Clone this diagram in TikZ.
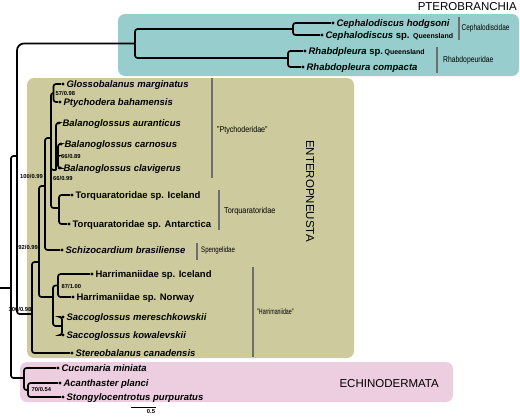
\documentclass[tikz,border=0pt]{standalone}
\usepackage{fontspec}
\setmainfont{Liberation Sans}
\usepackage{graphicx}
\definecolor{pteroteal}{RGB}{151,205,204}
\definecolor{entolive}{RGB}{205,203,158}
\definecolor{echpink}{RGB}{237,205,224}
\definecolor{bargray}{RGB}{110,110,110}
\newcommand\leaf[5]{%
  \node[leafdot] (#1) at (#2,#3) {};
  \node[#5] (#1-t) at ([shift={(1.6,3.4)}]#1.east) {#4};}
\newcommand\qsmall[1]{{\upshape\fontsize{7}{8}\selectfont #1}}
\begin{document}
\begin{tikzpicture}[x=1pt,y=-1pt,
  branch/.style={line width=1.7pt, rounded corners=2.5pt},
  leafdot/.style={circle, fill=black, inner sep=0pt, minimum size=3.2pt},
  taxon/.style={anchor=base west, inner sep=0pt, font=\fontsize{9.5}{10}\selectfont\bfseries\itshape},
  taxonup/.style={anchor=base west, inner sep=0pt, font=\fontsize{9.5}{10}\selectfont\bfseries},
  support/.style={inner sep=0pt, font=\fontsize{5.8}{6}\selectfont\bfseries},
  famlabel/.style={anchor=west, inner sep=0pt, font=\fontsize{8.5}{9}\selectfont},
  famsmall/.style={anchor=west, inner sep=0pt, font=\fontsize{8}{9}\selectfont},
  fambar/.style={draw=bargray, line width=1.6pt},
  cladename/.style={inner sep=0pt, font=\fontsize{11.5}{12}\selectfont}
]
\useasboundingbox (0,0) rectangle (520,416);
% clade boxes
\fill[pteroteal, rounded corners=7pt] (118,14) rectangle (519,76);
\fill[entolive, rounded corners=7pt] (27,78) rectangle (354,358);
\fill[echpink, rounded corners=7pt] (20,362) rectangle (453,402);
\node[cladename, anchor=base east] (ptName) at (517,10) {PTEROBRANCHIA};
\node[cladename, anchor=base east] (echName) at (439,387) {ECHINODERMATA};
\node[cladename, rotate=-90] (entName) at (310,191) {ENTEROPNEUSTA};

% internal nodes
\coordinate (rootstub) at (0,288);
\coordinate (root) at (11,288);
\coordinate (hemi) at (17,156);
\coordinate (ptero) at (135,43.5);
\coordinate (ceph) at (293,29);
\coordinate (rhab) at (288,58);
\coordinate (ent) at (32,314);
\coordinate (nC) at (39,262);
\coordinate (nB) at (45,186);
\coordinate (nA) at (51,138);
\coordinate (gp) at (53.5,93);
\coordinate (bal) at (56,170);
\coordinate (cc) at (58,156);
\coordinate (torq) at (59,208);
\coordinate (harr) at (53,297);
\coordinate (har1) at (58,285.5);
\coordinate (sac) at (62,326);
\coordinate (ech) at (24,378);
\coordinate (as) at (28,390);

% leaves
\leaf{Chod}{333}{23}{Cephalodiscus hodgsoni}{taxon}
\leaf{Csp}{322}{35}{Cephalodiscus \upshape sp. \qsmall{Queensland}}{taxon}
\leaf{Rsp}{305}{51}{Rhabdpleura \upshape sp.\,\qsmall{Queensland}}{taxon}
\leaf{Rcom}{303}{67}{Rhabdopleura compacta}{taxon}
\leaf{Glos}{63}{84}{Glossobalanus marginatus}{taxon}
\leaf{Ptyc}{60}{102}{Ptychodera bahamensis}{taxon}
\leaf{Baur}{59}{123}{Balanoglossus auranticus}{taxon}
\leaf{Bcar}{61}{144}{Balanoglossus carnosus}{taxon}
\leaf{Bcla}{60}{168}{Balanoglossus clavigerus}{taxon}
\leaf{TqI}{72}{195}{Torquaratoridae sp. Iceland}{taxonup}
\leaf{TqA}{69}{224}{Torquaratoridae sp. Antarctica}{taxonup}
\leaf{Schi}{62}{250}{Schizocardium brasiliense}{taxon}
\leaf{HaI}{92}{274}{Harrimaniidae sp. Iceland}{taxonup}
\leaf{HaN}{73}{297}{Harrimaniidae sp. Norway}{taxonup}
\leaf{Smer}{63}{317}{Saccoglossus mereschkowskii}{taxon}
\leaf{Skow}{63}{335}{Saccoglossus kowalevskii}{taxon}
\leaf{Ster}{72}{353}{Stereobalanus canadensis}{taxon}
\leaf{Cucu}{58}{368}{Cucumaria miniata}{taxon}
\leaf{Acan}{60}{383}{Acanthaster planci}{taxon}
\leaf{Stro}{63}{397}{Stongylocentrotus purpuratus}{taxon}

% branches
\draw[branch] (rootstub) -- (root);
\draw[branch] (root) |- (hemi);
\draw[branch] (root) |- (ech);
\draw[branch, rounded corners=7pt] (hemi) |- (ptero);
\draw[branch] (hemi) |- (ent);
\draw[branch] (ptero) |- (ceph);
\draw[branch] (ptero) |- (rhab);
\draw[branch] (ceph) |- (Chod);
\draw[branch] (ceph) |- (Csp);
\draw[branch] (rhab) |- (Rsp);
\draw[branch] (rhab) |- (Rcom);
\draw[branch] (ent) |- (nC);
\draw[branch] (ent) |- (Ster);
\draw[branch] (nC) |- (nB);
\draw[branch] (nC) |- (harr);
\draw[branch] (nB) |- (nA);
\draw[branch] (nB) |- (Schi);
\draw[branch] (nA) |- (gp);
\draw[branch] (nA) |- (bal);
\draw[branch] (nA) |- (torq);
\draw[branch] (gp) |- (Glos);
\draw[branch] (gp) |- (Ptyc);
\draw[branch] (bal) |- (Baur);
\draw[branch] (bal) |- (cc);
\draw[branch] (cc) |- (Bcar);
\draw[branch] (cc) |- (Bcla);
\draw[branch] (torq) |- (TqI);
\draw[branch] (torq) |- (TqA);
\draw[branch] (harr) |- (har1);
\draw[branch] (harr) |- (sac);
\draw[branch] (har1) |- (HaI);
\draw[branch] (har1) |- (HaN);
\draw[branch] (sac) |- (Smer);
\draw[branch] (sac) |- (Skow);
\draw[branch] (ech) |- (Cucu);
\draw[branch] (ech) |- (as);
\draw[branch] (as) |- (Acan);
\draw[branch] (as) |- (Stro);

% support values
\node[support, anchor=west] (s1) at (55.5,93.5) {57/0.98};
\node[support, anchor=west] (s2) at (61,156.5) {66/0.89};
\node[support, anchor=west] (s3) at (53,178) {66/0.99};
\node[support, anchor=east] (s4) at (43,176) {100/0.99};
\node[support, anchor=east] (s5) at (38,247) {92/0.99};
\node[support, anchor=east] (s6) at (31.5,309.5) {100/0.98};
\node[support, anchor=west] (s7) at (61.5,286) {87/1.00};
\node[support, anchor=west] (s8) at (31.5,389.5) {70/0.54};

% family bars
\coordinate (fb1a) at (459,17); \coordinate (fb1b) at (459,40);
\draw[fambar] (fb1a) -- (fb1b);
\node[famlabel] (f1) at (461.5,28.5) {\scalebox{0.76}[1]{Cephalodiscidae}};
\coordinate (fb2a) at (437,47); \coordinate (fb2b) at (437,73);
\draw[fambar] (fb2a) -- (fb2b);
\node[famlabel] (f2) at (443,60) {\scalebox{0.8}[1]{Rhabdopeuridae}};
\coordinate (fb3a) at (212,78); \coordinate (fb3b) at (212,178);
\draw[fambar] (fb3a) -- (fb3b);
\node[famlabel] (f3) at (217,130) {\scalebox{0.84}[1]{"Ptychoderidae"}};
\coordinate (fb4a) at (219,190); \coordinate (fb4b) at (219,230);
\draw[fambar] (fb4a) -- (fb4b);
\node[famlabel] (f4) at (224,211) {\scalebox{0.86}[1]{Torquaratoridae}};
\coordinate (fb5a) at (197,243); \coordinate (fb5b) at (197,260);
\draw[fambar] (fb5a) -- (fb5b);
\node[famsmall] (f5) at (201,250) {\scalebox{0.76}[1]{Spengelidae}};
\coordinate (fb6a) at (253,267); \coordinate (fb6b) at (253,357);
\draw[fambar] (fb6a) -- (fb6b);
\node[famsmall] (f6) at (257,312) {\scalebox{0.66}[1]{"Harrimaniidae"}};

% scale bar
\coordinate (sb1) at (131,407); \coordinate (sb2) at (156,407);
\draw[line width=0.8pt] (sb1) -- (sb2);
\node[support, anchor=north] (sbl) at (151,409) {0.5};
\end{tikzpicture}
\end{document}
